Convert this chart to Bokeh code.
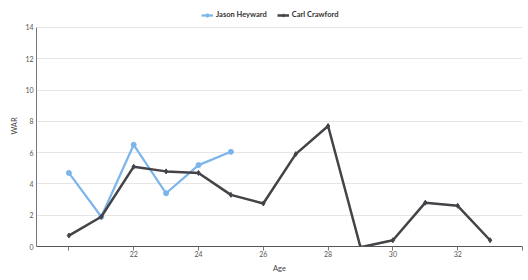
from bokeh.plotting import figure
from bokeh.models import FixedTicker, Legend, LegendItem, Range1d
from bokeh.embed import file_html
from bokeh.resources import INLINE

heyward_age = [20, 21, 22, 23, 24, 25]
heyward_war = [4.7, 1.9, 6.5, 3.4, 5.2, 6.05]
crawford_age = [20, 21, 22, 23, 24, 25, 26, 27, 28, 29, 30, 31, 32, 33]
crawford_war = [0.7, 1.9, 5.1, 4.8, 4.7, 3.3, 2.75, 5.9, 7.7, -0.05, 0.4, 2.8, 2.6, 0.4]
x_ticks = [20, 22, 24, 26, 28, 30, 32, 34]
x_labels = {20: "", 22: "22", 24: "24", 26: "26", 28: "28", 30: "30", 32: "32", 34: ""}
y_ticks = [0, 2, 4, 6, 8, 10, 12, 14]

FONT = "Lato"

p = figure(width=528, height=280, output_backend="svg", toolbar_location=None,
           x_range=Range1d(19, 34), y_range=Range1d(0, 15.4),
           min_border_left=36, min_border_right=6, min_border_top=5, min_border_bottom=34)
p.outline_line_color = None
p.background_fill_color = "white"

p.xgrid.grid_line_color = None
p.ygrid.grid_line_color = "#e6e6e6"
p.ygrid.grid_line_width = 1

p.xaxis.ticker = FixedTicker(ticks=x_ticks)
p.xaxis.major_label_overrides = x_labels
p.xaxis.minor_tick_line_color = None
p.xaxis.major_tick_in = 0
p.xaxis.major_tick_out = 4
p.xaxis.axis_line_color = "#555555"
p.xaxis.major_tick_line_color = "#777777"
p.xaxis.major_label_text_font = FONT
p.xaxis.major_label_text_font_size = "7px"
p.xaxis.major_label_text_color = "#555555"
p.xaxis.axis_label = "Age"
p.xaxis.axis_label_text_font = FONT
p.xaxis.axis_label_text_font_style = "normal"
p.xaxis.axis_label_text_font_size = "7.5px"
p.xaxis.axis_label_text_color = "#444444"
p.xaxis.axis_label_standoff = 4
p.xaxis.major_label_standoff = 0

p.yaxis.ticker = FixedTicker(ticks=y_ticks)
p.yaxis.bounds = (0, 14)
p.yaxis.minor_tick_line_color = None
p.yaxis.major_tick_line_color = None
p.yaxis.major_tick_out = 0
p.yaxis.major_tick_in = 0
p.yaxis.axis_line_color = "#777777"
p.yaxis.major_label_text_font = FONT
p.yaxis.major_label_text_font_size = "7px"
p.yaxis.major_label_text_color = "#555555"
p.yaxis.axis_label = "WAR"
p.yaxis.axis_label_text_font = FONT
p.yaxis.axis_label_text_font_style = "normal"
p.yaxis.axis_label_text_font_size = "7.5px"
p.yaxis.axis_label_text_color = "#444444"
p.yaxis.axis_label_standoff = 3
p.yaxis.major_label_standoff = 3

blue = "#7cb5ec"
dark = "#434348"

l1 = p.line(heyward_age, heyward_war, line_color=blue, line_width=2.2)
m1 = p.scatter(heyward_age, heyward_war, size=5, color=blue)
l2 = p.line(crawford_age, crawford_war, line_color=dark, line_width=2.5)
m2 = p.scatter(crawford_age, crawford_war, size=5, marker="diamond", color=dark)

legend = Legend(items=[LegendItem(label="Jason Heyward", renderers=[l1, m1]),
                       LegendItem(label="Carl Crawford", renderers=[l2, m2])],
                orientation="horizontal", location=(165, 227),
                label_text_font=FONT, label_text_font_size="7.5px",
                label_text_font_style="bold", label_text_color="#333333",
                glyph_width=12, glyph_height=8, label_standoff=3, spacing=10,
                padding=2, margin=0, border_line_color=None,
                background_fill_alpha=0)
p.add_layout(legend, "center")

open("out.html", "w").write(file_html(p, INLINE))
